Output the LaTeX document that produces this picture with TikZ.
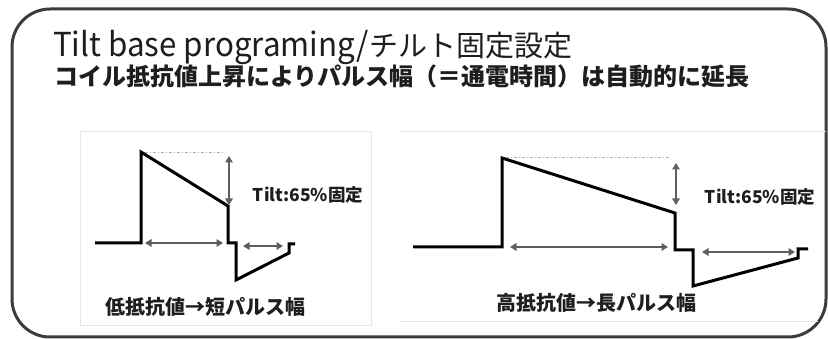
\documentclass[tikz,border=0pt]{standalone}
\usepackage{fontspec}
\setmainfont{Noto Sans CJK JP}
\usetikzlibrary{arrows.meta}
\definecolor{framecol}{HTML}{3C3C3C}
\definecolor{arrcol}{HTML}{5E5E5E}
\definecolor{panelcol}{HTML}{E6E6E6}
\definecolor{txtcol}{HTML}{1E1E1E}
\tikzset{
  wave/.style={line width=3pt, black, line join=miter},
  dim/.style={line width=2pt, arrcol, {Triangle[length=6.5pt,width=7.5pt]}-{Triangle[length=6.5pt,width=7.5pt]}},
  refline/.style={line width=0.8pt, gray!60, dash pattern=on 3pt off 2pt on 1pt off 2pt},
  panel/.style={line width=0.8pt, panelcol},
  tiltlbl/.style={inner sep=0pt, txtcol, font=\fontsize{17.5}{17.5}\selectfont\bfseries},
  caplbl/.style={inner sep=0pt, txtcol, font=\fontsize{20}{20}\selectfont\bfseries},
}
\begin{document}
\begin{tikzpicture}[x=1pt,y=-1pt]
\useasboundingbox (0,0) rectangle (828,339);
% outer frame
\draw[line width=3pt, framecol, rounded corners=38pt] (12,9) rectangle (826,337);
% title
\node[anchor=base west, inner sep=0pt, txtcol] (title) at (53,57) {\scalebox{0.95}[1]{\fontsize{33}{33}\selectfont Tilt base programing/}\fontsize{29}{29}\selectfont チルト固定設定};
\node[anchor=base west, inner sep=0pt, txtcol, font=\fontsize{24}{24}\selectfont\bfseries] (sub) at (54,86) {コイル抵抗値上昇によりパルス幅（＝通電時間）は自動的に延長};
% panels
\draw[panel] (80,131) rectangle (371,325);
\draw[panel] (400,131) -- (826,131);
\draw[panel] (400,321) -- (818,321);
% left waveform
\draw[wave] (95,243) -- (141,243) -- (141,152) -- (228,206) -- (228,243) -- (236,243) -- (236,280) -- (289,253) -- (289,244) -- (295,244);
\draw[refline] (145,152) -- (225,152);
\draw[dim] (229,156) -- (229,205);
\draw[dim] (145,243) -- (223,243);
\draw[dim] (243,246) -- (283,246);
\node[tiltlbl] (tiltL) at (308,195) {Tilt:65\%固定};
\node[caplbl] (capL) at (205,307) {低抵抗値→短パルス幅};
% right waveform
\draw[wave] (413,247) -- (502,247) -- (502,158) -- (675,213) -- (675,250) -- (693,250) -- (693,286) -- (798,258) -- (798,249) -- (808,249);
\draw[refline] (506,157) -- (670,157);
\draw[dim] (676,163) -- (676,205);
\draw[dim] (510,247) -- (668,247);
\draw[dim] (702,252) -- (795,252);
\node[tiltlbl] (tiltR) at (760,197) {Tilt:65\%固定};
\node[caplbl] (capR) at (596,303) {高抵抗値→長パルス幅};
\end{tikzpicture}
\end{document}
